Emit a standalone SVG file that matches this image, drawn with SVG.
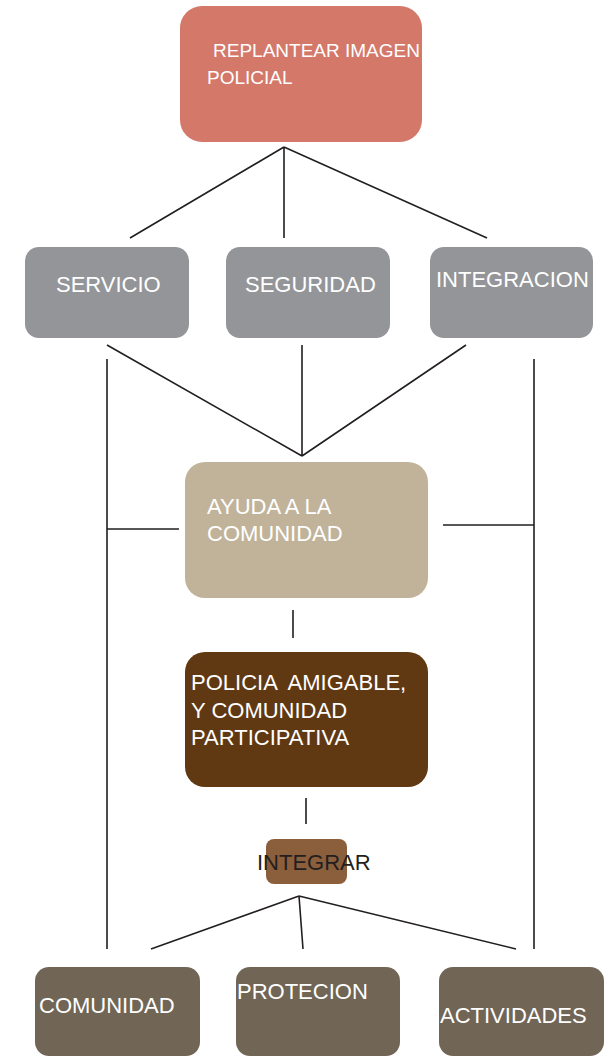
<svg xmlns="http://www.w3.org/2000/svg" width="612" height="1057" viewBox="0 0 612 1057">
<style>
.t{font-family:"Liberation Sans",Arial,sans-serif;font-size:22px;fill:#ffffff}
.c{stroke:#231f20;stroke-width:1.6;fill:none}
.g{fill:#939598}
.b{fill:#716556}
</style>
<rect width="612" height="1057" fill="#ffffff"/>
<g id="connectors">
<path class="c" d="M284 147 L130 238 M284 147 L284 238 M284 147 L487 238"/>
<path class="c" d="M107 345 L302 456 M302 345 L302 456 M466 345 L302 456"/>
<path class="c" d="M107 359 L107 949 M534 359 L534 949"/>
<path class="c" d="M107 529 L179 529 M443 525 L534 525"/>
<path class="c" d="M293 610 L293 638 M306 798 L306 824"/>
<path class="c" d="M299 896 L151 949 M299 896 L303 949 M299 896 L516 949"/>
</g>
<g id="replantear">
<rect x="180" y="6" width="242" height="136" rx="22" fill="#d4786a"/>
<text class="t" style="font-size:19px" x="213" y="57">REPLANTEAR IMAGEN</text>
<text class="t" style="font-size:19px" x="207" y="84">POLICIAL</text>
</g>
<g id="servicio">
<rect class="g" x="25" y="247" width="164" height="91" rx="14"/>
<text class="t" x="56" y="292">SERVICIO</text>
</g>
<g id="seguridad">
<rect class="g" x="226" y="247" width="164" height="91" rx="14"/>
<text class="t" x="245" y="292">SEGURIDAD</text>
</g>
<g id="integracion">
<rect class="g" x="430" y="247" width="163" height="91" rx="14"/>
<text class="t" x="436" y="287">INTEGRACION</text>
</g>
<g id="ayuda">
<rect x="185" y="462" width="243" height="136" rx="20" fill="#c1b39a"/>
<text class="t" x="207" y="514">AYUDA A LA</text>
<text class="t" x="207" y="541">COMUNIDAD</text>
</g>
<g id="policia">
<rect x="185" y="652" width="243" height="135" rx="20" fill="#603913"/>
<text class="t" x="191" y="690" xml:space="preserve">POLICIA  AMIGABLE,</text>
<text class="t" x="191" y="718">Y COMUNIDAD</text>
<text class="t" x="191" y="745">PARTICIPATIVA</text>
</g>
<g id="integrar">
<rect x="266" y="839" width="81" height="45" rx="8" fill="#8b5e3c"/>
<text class="t" style="fill:#231f20" x="257" y="870">INTEGRAR</text>
</g>
<g id="comunidad">
<rect class="b" x="35" y="967" width="165" height="89" rx="14"/>
<text class="t" x="39" y="1013">COMUNIDAD</text>
</g>
<g id="protecion">
<rect class="b" x="236" y="967" width="164" height="89" rx="14"/>
<text class="t" x="237" y="999">PROTECION</text>
</g>
<g id="actividades">
<rect class="b" x="439" y="967" width="165" height="89" rx="14"/>
<text class="t" x="440" y="1023">ACTIVIDADES</text>
</g>
</svg>
